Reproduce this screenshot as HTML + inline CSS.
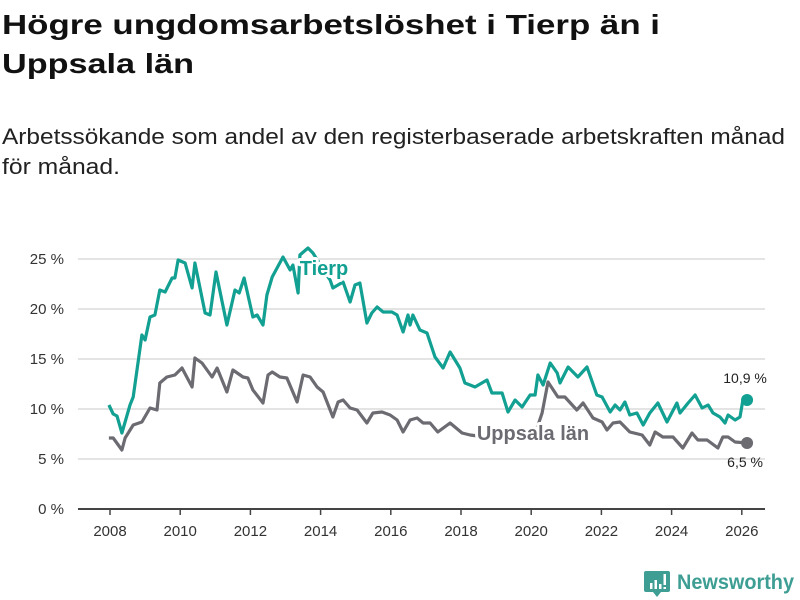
<!DOCTYPE html>
<html><head><meta charset="utf-8"><style>
body{margin:0;background:#fff;}
svg{display:block;font-family:"Liberation Sans",sans-serif;}
</style></head><body>
<svg id="chart" width="800" height="600" viewBox="0 0 800 600">
<text x="2" y="34" font-size="28" font-weight="bold" fill="#111" textLength="658" lengthAdjust="spacingAndGlyphs">Högre ungdomsarbetslöshet i Tierp än i</text>
<text x="2" y="73" font-size="28" font-weight="bold" fill="#111" textLength="192" lengthAdjust="spacingAndGlyphs">Uppsala län</text>
<text x="2" y="144" font-size="22" fill="#222" textLength="783" lengthAdjust="spacingAndGlyphs">Arbetssökande som andel av den registerbaserade arbetskraften månad</text>
<text x="2" y="174" font-size="22" fill="#222" textLength="118" lengthAdjust="spacingAndGlyphs">för månad.</text>
<g id="grid"></g>
<g id="yticks"></g>
<g id="xaxis"></g>
<g id="lines"></g>
<g>
<path d="M646 571 h22 a2 2 0 0 1 2 2 v17 a2 2 0 0 1 -2 2 h-7 l-4 5 l-4 -5 h-7 a2 2 0 0 1 -2 -2 v-17 a2 2 0 0 1 2 -2z" fill="#3e9e94"/>
<rect x="650" y="583" width="2.5" height="6" fill="#fff"/><rect x="654.5" y="580" width="2.5" height="9" fill="#fff"/><rect x="659" y="584" width="2.5" height="5" fill="#fff"/><rect x="663.5" y="574" width="2.5" height="11" fill="#fff"/><rect x="663.5" y="587" width="2.5" height="2" fill="#fff"/>
<text x="677" y="589" font-size="21" font-weight="bold" fill="#3e9e94" textLength="117" lengthAdjust="spacingAndGlyphs">Newsworthy</text>
</g>
</svg>
<script>
const yTicks=[0,5,10,15,20,25];
const xTicks=[2008,2010,2012,2014,2016,2018,2020,2022,2024,2026];
const tierpDates=[2007.97,2008.09,2008.20,2008.34,2008.43,2008.57,2008.66,2008.91,2009.00,2009.14,2009.28,2009.42,2009.57,2009.77,2009.85,2009.94,2010.14,2010.34,2010.42,2010.71,2010.85,2011.02,2011.33,2011.56,2011.68,2011.82,2012.07,2012.19,2012.36,2012.47,2012.62,2012.93,2013.13,2013.21,2013.36,2013.41,2013.64,2013.78,2013.98,2014.15,2014.27,2014.35,2014.64,2014.84,2014.98,2015.12,2015.32,2015.46,2015.61,2015.78,2016.03,2016.18,2016.35,2016.49,2016.55,2016.63,2016.83,2017.03,2017.26,2017.49,2017.69,2017.97,2018.11,2018.26,2018.40,2018.74,2018.88,2019.17,2019.34,2019.54,2019.74,2019.97,2020.11,2020.19,2020.34,2020.54,2020.74,2020.82,2021.05,2021.33,2021.59,2021.87,2022.02,2022.25,2022.39,2022.53,2022.67,2022.81,2023.01,2023.19,2023.38,2023.61,2023.87,2024.15,2024.24,2024.47,2024.67,2024.87,2025.04,2025.18,2025.38,2025.52,2025.61,2025.81,2025.95,2026.03,2026.15];
const tierpValues=[10.4,9.5,9.3,7.6,8.7,10.4,11.2,17.4,16.9,19.2,19.4,21.9,21.7,23.1,23.1,24.9,24.6,22.1,24.6,19.6,19.4,23.7,18.4,21.9,21.6,23.1,19.2,19.4,18.4,21.4,23.2,25.2,23.9,24.4,21.6,25.4,26.1,25.6,24.5,23.5,22.9,22.1,22.7,20.7,22.4,22.6,18.6,19.6,20.2,19.7,19.7,19.4,17.7,19.4,18.4,19.4,17.9,17.6,15.2,14.1,15.7,14.1,12.6,12.4,12.2,12.9,11.6,11.6,9.7,10.9,10.2,11.4,11.4,13.4,12.4,14.6,13.6,12.6,14.2,13.2,14.2,11.4,11.2,9.7,10.4,9.9,10.7,9.4,9.6,8.4,9.6,10.6,8.7,10.6,9.6,10.6,11.4,10.1,10.4,9.6,9.2,8.6,9.4,8.9,9.2,10.9,10.9];
const uppsalaDates=[2007.97,2008.09,2008.34,2008.43,2008.66,2008.91,2009.14,2009.34,2009.42,2009.62,2009.85,2010.05,2010.34,2010.42,2010.62,2010.91,2011.05,2011.33,2011.50,2011.79,2011.93,2012.07,2012.36,2012.50,2012.62,2012.84,2013.04,2013.33,2013.50,2013.70,2013.90,2014.07,2014.35,2014.50,2014.64,2014.84,2015.04,2015.32,2015.49,2015.75,2015.98,2016.18,2016.35,2016.55,2016.75,2016.92,2017.12,2017.34,2017.69,2018.03,2018.26,2018.70,2019.20,2019.70,2020.10,2020.31,2020.48,2020.76,2020.96,2021.30,2021.48,2021.76,2022.02,2022.16,2022.33,2022.53,2022.81,2023.16,2023.38,2023.53,2023.75,2024.04,2024.32,2024.58,2024.75,2025.01,2025.32,2025.46,2025.61,2025.81,2026.15];
const uppsalaValues=[7.1,7.1,5.9,7.1,8.4,8.7,10.1,9.9,12.6,13.2,13.4,14.1,12.2,15.1,14.6,13.2,14.1,11.7,13.9,13.2,13.1,11.9,10.6,13.4,13.7,13.2,13.1,10.7,13.4,13.2,12.2,11.7,9.2,10.7,10.9,10.1,9.9,8.6,9.6,9.7,9.4,8.9,7.7,8.9,9.1,8.6,8.6,7.7,8.6,7.6,7.4,7.2,7.0,7.1,7.4,9.6,12.7,11.2,11.2,9.9,10.6,9.1,8.7,7.9,8.6,8.7,7.7,7.4,6.4,7.7,7.2,7.2,6.1,7.6,6.9,6.9,6.1,7.2,7.2,6.7,6.6];
const tierpLast="10,9 %", uppsalaLast="6,5 %";

const X=d=>110+(d-2008)*35.1;
const Y=v=>509-v*10;
const NS="http://www.w3.org/2000/svg";
function mk(tag,attrs,parent){const e=document.createElementNS(NS,tag);for(const k in attrs)e.setAttribute(k,attrs[k]);parent.appendChild(e);return e;}
const grid=document.getElementById('grid'),yt=document.getElementById('yticks'),xa=document.getElementById('xaxis'),lines=document.getElementById('lines');
yTicks.forEach(v=>{
  if(v>0){const g=mk('line',{x1:78,x2:765,y1:Y(v),y2:Y(v),stroke:'#dcdcdc','stroke-width':1.5},grid);
  
  }
  const t=mk('text',{x:64,y:Y(v)+5,'text-anchor':'end','font-size':15,fill:'#333'},yt);t.textContent=v+' %';
  
  
});
const ax=mk('line',{x1:78,x2:765,y1:509,y2:509,stroke:'#444','stroke-width':2},xa);


xTicks.forEach(y=>{
  mk('line',{x1:X(y),x2:X(y),y1:509,y2:515,stroke:'#444','stroke-width':1.5},xa);
  const t=mk('text',{x:X(y),y:536,'text-anchor':'middle','font-size':15,fill:'#333'},xa);t.textContent=y;
  
  
});
function series(dates,vals,color,name){
  const d=dates.map((t,i)=>(i?'L':'M')+X(t).toFixed(1)+' '+Y(vals[i]).toFixed(1)).join(' ');
  const p=mk('path',{d:d,fill:'none',stroke:color,'stroke-width':3.2,'stroke-linejoin':'round'},lines);
  
  
  const n=dates.length-1;
  const c=mk('circle',{cx:X(dates[n]),cy:Y(vals[n]),r:6,fill:color},lines);
  
  
}
series(uppsalaDates,uppsalaValues,'#6d6b72','uppsala');
series(tierpDates,tierpValues,'#12a092','tierp');
function label(x,y,txt,color,size,bold,name,halo){
  const t=mk('text',{x:x,y:y,'font-size':size,'font-weight':bold?'bold':'normal',fill:color,'text-anchor':'middle','paint-order':'stroke',stroke:halo?'#fff':'none','stroke-width':halo?6:0,'stroke-linejoin':'round'},lines);
  t.textContent=txt;
  
  
}
label(324,275,'Tierp','#12a092',20,true,'tierp-label',true);
label(533,440,'Uppsala län','#6d6b72',20,true,'uppsala-label',true);
label(X(tierpDates[tierpDates.length-1])-2,Y(tierpValues[tierpValues.length-1])-17,tierpLast,'#222',14,false,'tierp-value-label',false);
label(X(uppsalaDates[uppsalaDates.length-1])-2,Y(uppsalaValues[uppsalaValues.length-1])+24,uppsalaLast,'#222',14,false,'uppsala-value-label',false);
</script>
</body></html>
